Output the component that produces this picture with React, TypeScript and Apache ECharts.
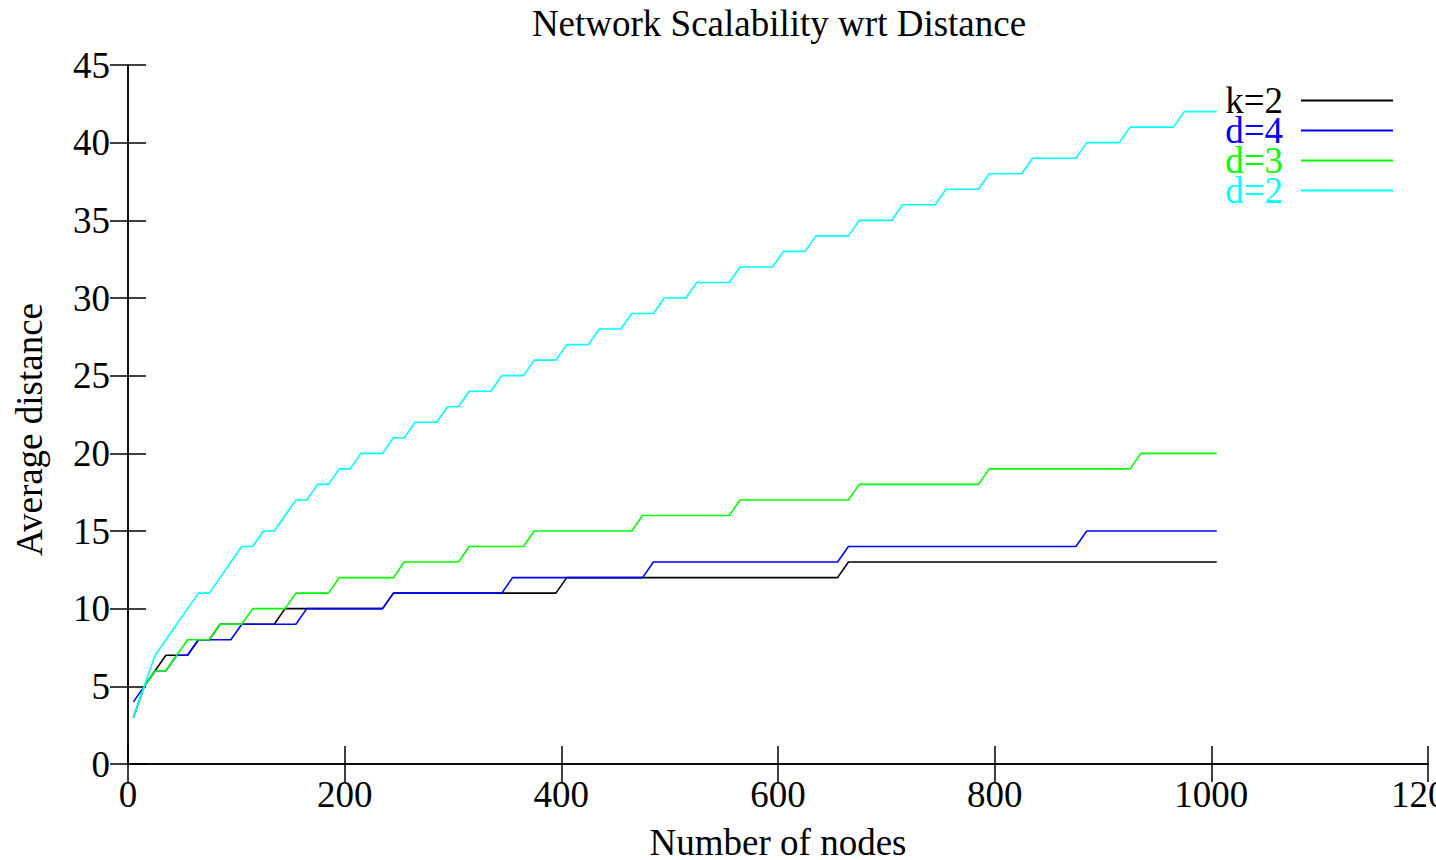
import React, { useEffect, useRef } from "react";
import * as echarts from "echarts";

const nodes = [
  5, 15, 25, 35, 45, 55, 65, 75, 85, 95,
  105, 115, 125, 135, 145, 155, 165, 175, 185, 195,
  205, 215, 225, 235, 245, 255, 265, 275, 285, 295,
  305, 315, 325, 335, 345, 355, 365, 375, 385, 395,
  405, 415, 425, 435, 445, 455, 465, 475, 485, 495,
  505, 515, 525, 535, 545, 555, 565, 575, 585, 595,
  605, 615, 625, 635, 645, 655, 665, 675, 685, 695,
  705, 715, 725, 735, 745, 755, 765, 775, 785, 795,
  805, 815, 825, 835, 845, 855, 865, 875, 885, 895,
  905, 915, 925, 935, 945, 955, 965, 975, 985, 995,
  1005,
];

const k2 = [
  3, 5, 6, 7, 7, 7, 8, 8, 9, 9,
  9, 9, 9, 9, 10, 10, 10, 10, 10, 10,
  10, 10, 10, 10, 11, 11, 11, 11, 11, 11,
  11, 11, 11, 11, 11, 11, 11, 11, 11, 11,
  12, 12, 12, 12, 12, 12, 12, 12, 12, 12,
  12, 12, 12, 12, 12, 12, 12, 12, 12, 12,
  12, 12, 12, 12, 12, 12, 13, 13, 13, 13,
  13, 13, 13, 13, 13, 13, 13, 13, 13, 13,
  13, 13, 13, 13, 13, 13, 13, 13, 13, 13,
  13, 13, 13, 13, 13, 13, 13, 13, 13, 13,
  13,
];

const d4 = [
  4, 5, 6, 6, 7, 7, 8, 8, 8, 8,
  9, 9, 9, 9, 9, 9, 10, 10, 10, 10,
  10, 10, 10, 10, 11, 11, 11, 11, 11, 11,
  11, 11, 11, 11, 11, 12, 12, 12, 12, 12,
  12, 12, 12, 12, 12, 12, 12, 12, 13, 13,
  13, 13, 13, 13, 13, 13, 13, 13, 13, 13,
  13, 13, 13, 13, 13, 13, 14, 14, 14, 14,
  14, 14, 14, 14, 14, 14, 14, 14, 14, 14,
  14, 14, 14, 14, 14, 14, 14, 14, 15, 15,
  15, 15, 15, 15, 15, 15, 15, 15, 15, 15,
  15,
];

const d3 = [
  3, 5, 6, 6, 7, 8, 8, 8, 9, 9,
  9, 10, 10, 10, 10, 11, 11, 11, 11, 12,
  12, 12, 12, 12, 12, 13, 13, 13, 13, 13,
  13, 14, 14, 14, 14, 14, 14, 15, 15, 15,
  15, 15, 15, 15, 15, 15, 15, 16, 16, 16,
  16, 16, 16, 16, 16, 16, 17, 17, 17, 17,
  17, 17, 17, 17, 17, 17, 17, 18, 18, 18,
  18, 18, 18, 18, 18, 18, 18, 18, 18, 19,
  19, 19, 19, 19, 19, 19, 19, 19, 19, 19,
  19, 19, 19, 20, 20, 20, 20, 20, 20, 20,
  20,
];

const d2 = [
  3, 5, 7, 8, 9, 10, 11, 11, 12, 13,
  14, 14, 15, 15, 16, 17, 17, 18, 18, 19,
  19, 20, 20, 20, 21, 21, 22, 22, 22, 23,
  23, 24, 24, 24, 25, 25, 25, 26, 26, 26,
  27, 27, 27, 28, 28, 28, 29, 29, 29, 30,
  30, 30, 31, 31, 31, 31, 32, 32, 32, 32,
  33, 33, 33, 34, 34, 34, 34, 35, 35, 35,
  35, 36, 36, 36, 36, 37, 37, 37, 37, 38,
  38, 38, 38, 39, 39, 39, 39, 39, 40, 40,
  40, 40, 41, 41, 41, 41, 41, 42, 42, 42,
  42,
];

const seriesNames = ["k=2", "d=4", "d=3", "d=2"];
const seriesColors = ["#000000", "#0000ff", "#00ff00", "#00ffff"];
const seriesValues = [k2, d4, d3, d2];

const FONT = "'Liberation Serif', 'DejaVu Serif', 'Times New Roman', serif";

export default function App() {
  const ref = useRef<HTMLDivElement>(null);

  useEffect(() => {
    if (!ref.current) return;
    const chart = echarts.init(ref.current, null, { renderer: "svg" });
    const axisLine = { show: true, lineStyle: { color: "#000", width: 1.5 } };
    const tick = { show: true, inside: true, length: 18, lineStyle: { color: "#000", width: 1.5 } };
    chart.setOption({
      animation: false,
      backgroundColor: "#fff",
      title: {
        text: "Network Scalability wrt Distance",
        left: 774,
        textAlign: "center",
        top: 0,
        textStyle: { fontFamily: FONT, fontSize: 37, fontWeight: "normal", color: "#000" },
      },
      legend: {
        orient: "vertical",
        right: 38,
        top: 77,
        align: "right",
        icon: "rect",
        itemWidth: 92,
        itemHeight: 2,
        itemGap: -7,
        selectedMode: false,
        data: seriesNames.map((n, i) => ({ name: n, textStyle: { color: seriesColors[i] } })),
        textStyle: { fontFamily: FONT, fontSize: 37, padding: [0, 13, 0, 0] },
      },
      grid: { left: 128, right: 8, top: 65, bottom: 96, containLabel: false, outerBoundsMode: "none" },
      xAxis: [
        {
          type: "value",
          min: 0,
          max: 1200,
          interval: 200,
          position: "bottom",
          name: "Number of nodes",
          nameLocation: "middle",
          nameGap: 60,
          nameTextStyle: { fontFamily: FONT, fontSize: 37, color: "#000" },
          axisLine,
          axisTick: tick,
          splitLine: { show: false },
          axisLabel: {
            fontFamily: FONT,
            fontSize: 37,
            color: "#000",
            margin: 12,
            formatter: (v: number) => String(v),
          },
        },
        {
          type: "value",
          min: 0,
          max: 1200,
          interval: 200,
          position: "top",
          axisLine,
          axisTick: tick,
          splitLine: { show: false },
          axisLabel: { show: false },
        },
      ],
      yAxis: [
        {
          type: "value",
          min: 0,
          max: 45,
          interval: 5,
          position: "left",
          name: "Average distance",
          nameLocation: "middle",
          nameGap: 80,
          nameTextStyle: { fontFamily: FONT, fontSize: 37, color: "#000", padding: [0, 30, 0, 0] },
          axisLine,
          axisTick: tick,
          splitLine: { show: false },
          axisLabel: {
            fontFamily: FONT,
            fontSize: 37,
            color: "#000",
            margin: 18,
            formatter: (v: number) => String(v),
          },
        },
        {
          type: "value",
          min: 0,
          max: 45,
          interval: 5,
          position: "right",
          axisLine,
          axisTick: tick,
          splitLine: { show: false },
          axisLabel: { show: false },
        },
      ],
      series: seriesNames.map((n, i) => ({
        name: n,
        type: "line",
        xAxisIndex: 0,
        yAxisIndex: 0,
        symbol: "none",
        color: seriesColors[i],
        lineStyle: { color: seriesColors[i], width: 1.6 },
        data: nodes.map((x, j) => [x, seriesValues[i][j]]),
      })),
    });
    return () => chart.dispose();
  }, []);

  return (
    <div
      ref={ref}
      style={{ position: "fixed", left: 0, top: 0, width: 1436, height: 860, background: "#fff" }}
    />
  );
}
